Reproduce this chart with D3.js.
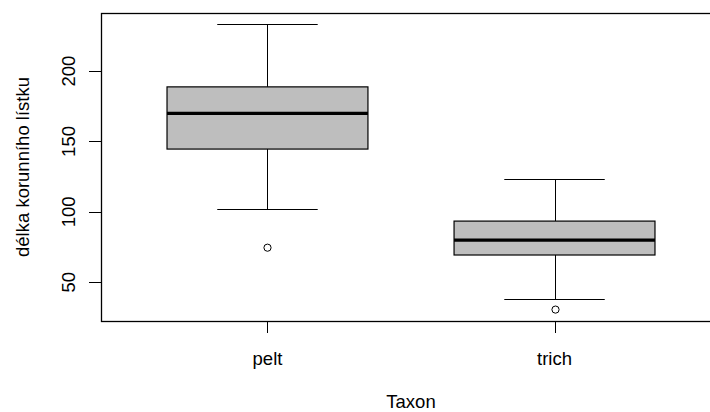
<!DOCTYPE html>
<html>
<head>
<meta charset="utf-8">
<script src="https://cdn.jsdelivr.net/npm/d3@7"></script>
<style>
  html, body { margin: 0; padding: 0; background: #fff; }
  svg { display: block; }
  text { font-family: "Liberation Sans", Arial, sans-serif; fill: #000; }
</style>
</head>
<body>
<svg id="chart" width="710" height="412"></svg>
<script>
// Box-plot summaries per taxon
const taxa = ["pelt", "trich"];
const whiskerLow = [101.8, 38.0];
const quartile1 = [144.6, 69.3];
const medians = [170.0, 79.9];
const quartile3 = [188.8, 93.4];
const whiskerHigh = [233.2, 123.1];
const outliers = [[74.5], [30.5]];
const yTicks = [50, 100, 150, 200];

const svg = d3.select("#chart");
const fontSize = 18.5;

// Plot region (right edge sits past the canvas)
const plotLeft = 101, plotTop = 13, plotBottom = 321, plotRight = 721;

// Data range with 4% padding on each side
const allVals = whiskerLow.concat(whiskerHigh, outliers.flat());
const lo = d3.min(allVals), hi = d3.max(allVals);
const pad = (hi - lo) * 0.04;
const y = d3.scaleLinear().domain([lo - pad, hi + pad]).range([plotBottom, plotTop]);

// Category positions 1..n on a padded continuous axis
const n = taxa.length;
const xPad = n * 0.04;
const x = d3.scaleLinear().domain([0.5 - xPad, n + 0.5 + xPad]).range([plotLeft, plotRight]);

const boxHalf = 0.35;   // box half-width in category units
const capHalf = 0.175;  // whisker cap half-width

const data = taxa.map((t, i) => ({
  name: t, pos: i + 1,
  lo: whiskerLow[i], q1: quartile1[i], med: medians[i],
  q3: quartile3[i], hi: whiskerHigh[i], out: outliers[i]
}));

const g = svg.append("g");

data.forEach(d => {
  const cx = Math.round(x(d.pos)) + 0.5;
  const bx0 = x(d.pos - boxHalf), bx1 = x(d.pos + boxHalf);
  const cx0 = x(d.pos - capHalf), cx1 = x(d.pos + capHalf);

  // whiskers
  g.append("line").attr("x1", cx).attr("x2", cx)
    .attr("y1", y(d.hi)).attr("y2", y(d.q3))
    .attr("stroke", "#000").attr("stroke-width", 1);
  g.append("line").attr("x1", cx).attr("x2", cx)
    .attr("y1", y(d.q1)).attr("y2", y(d.lo))
    .attr("stroke", "#000").attr("stroke-width", 1);
  // caps
  [d.hi, d.lo].forEach(v => {
    g.append("line").attr("x1", cx0).attr("x2", cx1)
      .attr("y1", Math.round(y(v)) + 0.5).attr("y2", Math.round(y(v)) + 0.5)
      .attr("stroke", "#000").attr("stroke-width", 1);
  });
  // box
  g.append("rect")
    .attr("x", bx0).attr("y", y(d.q3))
    .attr("width", bx1 - bx0).attr("height", y(d.q1) - y(d.q3))
    .attr("fill", "#bebebe").attr("stroke", "#000").attr("stroke-width", 1.2);
  // median
  g.append("line").attr("x1", bx0).attr("x2", bx1)
    .attr("y1", y(d.med)).attr("y2", y(d.med))
    .attr("stroke", "#000").attr("stroke-width", 3.2);
  // outliers
  d.out.forEach(v => {
    g.append("circle").attr("cx", cx).attr("cy", y(v)).attr("r", 3.6)
      .attr("fill", "none").attr("stroke", "#000").attr("stroke-width", 1);
  });
});

// frame
svg.append("rect")
  .attr("x", plotLeft + 0.5).attr("y", plotTop + 0.5)
  .attr("width", plotRight - plotLeft).attr("height", plotBottom - plotTop)
  .attr("fill", "none").attr("stroke", "#000").attr("stroke-width", 1.3);

// y axis
const yAxis = svg.append("g");
yTicks.forEach(t => {
  const yy = Math.round(y(t)) + 0.5;
  yAxis.append("line").attr("x1", plotLeft - 12).attr("x2", plotLeft)
    .attr("y1", yy).attr("y2", yy).attr("stroke", "#000").attr("stroke-width", 1);
  yAxis.append("text")
    .attr("transform", `translate(75,${y(t)}) rotate(-90)`)
    .attr("text-anchor", "middle")
    .attr("font-size", fontSize)
    .text(t);
});

// x axis
const xAxis = svg.append("g");
data.forEach(d => {
  const cx = Math.round(x(d.pos)) + 0.5;
  xAxis.append("line").attr("x1", cx).attr("x2", cx)
    .attr("y1", plotBottom).attr("y2", plotBottom + 12).attr("stroke", "#000").attr("stroke-width", 1);
  xAxis.append("text")
    .attr("x", x(d.pos)).attr("y", 365)
    .attr("text-anchor", "middle")
    .attr("font-size", fontSize)
    .text(d.name);
});

// axis titles
svg.append("text")
  .attr("x", 411).attr("y", 407.5)
  .attr("text-anchor", "middle").attr("font-size", fontSize)
  .text("Taxon");
svg.append("text")
  .attr("transform", `translate(29,${(plotTop + plotBottom) / 2}) rotate(-90)`)
  .attr("text-anchor", "middle").attr("font-size", fontSize)
  .text("délka korunního lístku");
</script>
</body>
</html>
